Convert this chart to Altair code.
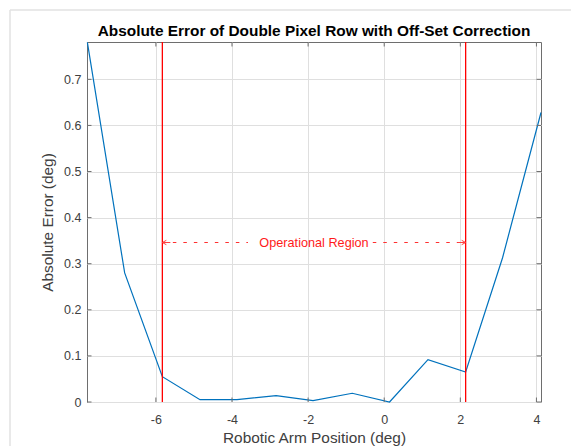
import altair as alt
import pandas as pd

# ---- data ----
chart_title = ["Absolute Error of Double Pixel Row with Off-Set Correction"]
x_pos = [-7.8, -6.82, -5.83, -4.84, -3.87, -2.84, -1.87, -0.84, 0.14, 1.15, 2.14, 3.11, 4.12]
abs_err = [0.78, 0.28, 0.055, 0.005, 0.005, 0.014, 0.003, 0.019, 0.0, 0.092, 0.065, 0.313, 0.628]
region_bounds = [-5.83, 2.14]
region_y = 0.346
region_label = "Operational Region"
label_gap = [-3.58, -0.30]
x_ticks = [-6, -4, -2, 0, 2, 4]
y_ticks = [0, 0.1, 0.2, 0.3, 0.4, 0.5, 0.6, 0.7]
x_domain = [-7.81, 4.12]
y_domain = [0, 0.781]

W, H = 454, 360
FONT = "Liberation Sans"
FRAME = "#6e6e6e"
TICK_LEN = 4.5

xs = alt.Scale(domain=x_domain, nice=False, zero=False)
ys = alt.Scale(domain=y_domain, nice=False, zero=False)

x_axis = alt.Axis(
    title="Robotic Arm Position (deg)", values=x_ticks, labelExpr="'' + datum.value",
    grid=True, ticks=False, tickSize=0, domain=False, labelPadding=11.4,
    titleY=40, titleBaseline="alphabetic")
y_axis = alt.Axis(
    title="Absolute Error (deg)", values=y_ticks, labelExpr="format(datum.value, '.1~f')",
    grid=True, ticks=False, tickSize=0, domain=False, labelPadding=6,
    titleX=-34.3, titleY=H / 2, titleBaseline="alphabetic", titleAngle=270)

def X(field="x"):
    return alt.X(f"{field}:Q", scale=xs, axis=x_axis)

def Y(field="y"):
    return alt.Y(f"{field}:Q", scale=ys, axis=y_axis)

df = pd.DataFrame({"x": x_pos, "y": abs_err})
df_bounds = pd.DataFrame({"x": region_bounds, "y": [region_y, region_y]})
df_seg = pd.DataFrame({
    "x": [region_bounds[0], label_gap[1]],
    "x2": [label_gap[0], region_bounds[1]],
    "y": [region_y, region_y],
})
df_lab = pd.DataFrame({"x": [(region_bounds[0] + region_bounds[1]) / 2], "y": [region_y], "t": [region_label]})
df_xt = pd.DataFrame({"x": x_ticks})
df_yt = pd.DataFrame({"y": y_ticks})
df_title = pd.DataFrame({"t": chart_title})

line = alt.Chart(df).mark_line(color="#0072BD", strokeWidth=1.2).encode(x=X(), y=Y())

vlines = alt.Chart(df_bounds).mark_rule(color="#ff0000", strokeWidth=1.3).encode(x=X())

segs = alt.Chart(df_seg).mark_rule(color="#ff3030", strokeWidth=1, strokeDash=[3.5, 7]).encode(
    x=X(), x2="x2:Q", y=Y()
)

left_arrow = alt.Chart(df_bounds.iloc[[0]]).mark_point(
    shape="M -1 0 L 1 0 M -1 0 L 0 -0.55 M -1 0 L 0 0.55", size=64, filled=False,
    color="#ff4040", strokeWidth=1, xOffset=4, opacity=1,
).encode(x=X(), y=Y())

right_arrow = alt.Chart(df_bounds.iloc[[1]]).mark_point(
    shape="M 1 0 L -1 0 M 1 0 L 0 -0.55 M 1 0 L 0 0.55", size=64, filled=False,
    color="#ff4040", strokeWidth=1, xOffset=-4, opacity=1,
).encode(x=X(), y=Y())

label = alt.Chart(df_lab).mark_text(
    color="#ff1a1a", font=FONT, fontSize=12.7, align="center", baseline="middle"
).encode(x=X(), y=Y(), text="t:N")

# inward tick marks on all four sides (MATLAB box style)
xt_bottom = alt.Chart(df_xt).mark_rule(color=FRAME, strokeWidth=1).encode(
    x=X(), y=alt.value(H), y2=alt.value(H - TICK_LEN))
xt_top = alt.Chart(df_xt).mark_rule(color=FRAME, strokeWidth=1).encode(
    x=X(), y=alt.value(0), y2=alt.value(TICK_LEN))
yt_left = alt.Chart(df_yt).mark_rule(color=FRAME, strokeWidth=1).encode(
    y=Y(), x=alt.value(0), x2=alt.value(TICK_LEN))
yt_right = alt.Chart(df_yt).mark_rule(color=FRAME, strokeWidth=1).encode(
    y=Y(), x=alt.value(W), x2=alt.value(W - TICK_LEN))

# faint outer figure border
frame_top = alt.Chart(df_bounds.iloc[[0]]).mark_rule(color="#e2e2e2", strokeWidth=1.5).encode(
    x=alt.value(-77), x2=alt.value(510), y=alt.value(-32))
frame_left = alt.Chart(df_bounds.iloc[[0]]).mark_rule(color="#e2e2e2", strokeWidth=1.5).encode(
    x=alt.value(-77), y=alt.value(-32), y2=alt.value(410))

# chart title as a text mark centred over the plot area
title = alt.Chart(df_title).mark_text(
    font=FONT, fontSize=15.4, fontWeight="bold", color="#000000",
    align="center", baseline="alphabetic",
).encode(x=alt.value(W / 2), y=alt.value(-6.5), text="t:N")

chart = alt.layer(
    frame_top, frame_left,
    line, vlines, segs, left_arrow, right_arrow, label,
    xt_bottom, xt_top, yt_left, yt_right, title,
).properties(
    width=W, height=H,
    autosize=alt.AutoSizeParams(type="none"),
    padding={"left": 79, "top": 34, "right": 30, "bottom": 44},
).configure_view(
    stroke=FRAME, strokeWidth=1
).configure_axis(
    gridColor="#dfdfdf", gridWidth=1, gridOpacity=1,
    labelFont=FONT, labelFontSize=12.5, labelColor="#404040",
    titleFont=FONT, titleFontSize=15.4, titleFontWeight="normal", titleColor="#404040",
)

chart.save("out.html", embed_options={"renderer": "svg", "actions": False})
